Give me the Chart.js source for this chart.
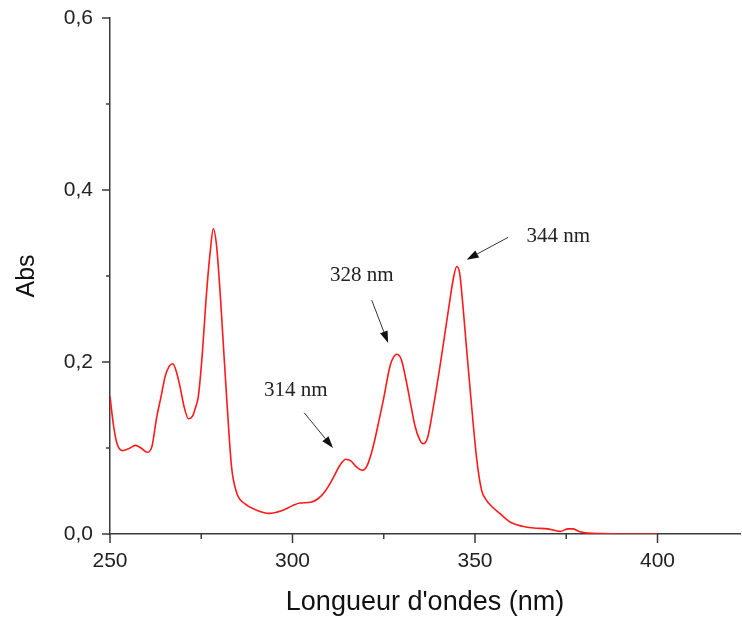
<!DOCTYPE html>
<html>
<head>
<meta charset="utf-8">
<script src="https://cdn.jsdelivr.net/npm/chart.js@4"></script>
<style>
  html, body { margin: 0; padding: 0; background: #fff; }
  #wrap { width: 742px; height: 619px; }
</style>
</head>
<body>
<div id="wrap"><canvas id="graph" width="742" height="619"></canvas></div>
<script>
// spectrum
const wavelengths = [250, 251, 252, 253.5, 255, 257, 258.5, 260.2, 261.5, 262.8, 264, 265.1, 266.2, 267.2, 268.3, 269.2, 270.3, 271.5, 272.6, 273.5, 274.2, 275.3, 276.3, 277.5, 278.3, 279.2, 280.3, 281.2, 282, 283.3, 284.7, 287, 290, 293.5, 297, 300, 302, 305, 307, 309, 311, 313, 314.6, 316, 317.5, 319.2, 320.5, 322, 323.5, 324.9, 326.7, 327.6, 328.6, 329.8, 331.3, 332.5, 333.6, 334.8, 335.8, 337, 338.6, 340.4, 342.7, 344.2, 345, 345.8, 346.8, 347.7, 348.6, 350.5, 351.8, 353, 354.6, 356.8, 359.6, 363, 366, 370, 373.3, 375.5, 376.8, 378.5, 381, 385, 390, 400];
const absorbance = [0.160, 0.125, 0.104, 0.097, 0.099, 0.103, 0.100, 0.095, 0.102, 0.136, 0.160, 0.183, 0.195, 0.198, 0.187, 0.171, 0.148, 0.134, 0.137, 0.148, 0.160, 0.210, 0.272, 0.330, 0.355, 0.335, 0.272, 0.210, 0.156, 0.078, 0.048, 0.035, 0.028, 0.024, 0.027, 0.033, 0.036, 0.037, 0.041, 0.050, 0.064, 0.080, 0.087, 0.085, 0.078, 0.074, 0.080, 0.100, 0.128, 0.156, 0.195, 0.205, 0.209, 0.203, 0.175, 0.148, 0.125, 0.110, 0.105, 0.112, 0.148, 0.195, 0.260, 0.300, 0.311, 0.303, 0.260, 0.215, 0.171, 0.086, 0.051, 0.040, 0.032, 0.024, 0.014, 0.009, 0.007, 0.006, 0.003, 0.006, 0.006, 0.003, 0.001, 0.0005, 0, 0];

const xMajor = [250, 300, 350, 400];
const xMinor = [275, 325, 375];
const yMajor = [0, 0.2, 0.4, 0.6];
const yMinor = [0.1, 0.3, 0.5];

// peak labels: text position and arrow (from -> to), in data units
const peakLabels = ['314 nm', '328 nm', '344 nm'];
const labelPos = [[300.9, 0.167], [319.0, 0.301], [372.8, 0.346]];
const arrowFrom = [[303.2, 0.141], [321.7, 0.272], [359.1, 0.345]];
const arrowTo = [[311.1, 0.100], [326.2, 0.222], [347.7, 0.319]];

const axisColor = '#3a3a3a';
const sans = '"Liberation Sans", Arial, sans-serif';

const tickMarks = {
    id: 'tickMarks',
    afterDraw(chart) {
        const ctx = chart.ctx;
        const x = chart.scales.x, y = chart.scales.y;
        const x0 = chart.chartArea.left, y0 = chart.chartArea.bottom;
        ctx.save();
        ctx.strokeStyle = axisColor;
        ctx.lineWidth = 1.5;
        ctx.beginPath();
        xMajor.forEach(v => { const p = x.getPixelForValue(v); ctx.moveTo(p, y0); ctx.lineTo(p, y0 + 9); });
        xMinor.forEach(v => { const p = x.getPixelForValue(v); ctx.moveTo(p, y0); ctx.lineTo(p, y0 + 5); });
        yMajor.forEach(v => { const p = y.getPixelForValue(v); ctx.moveTo(x0, p); ctx.lineTo(x0 - 8, p); });
        yMinor.forEach(v => { const p = y.getPixelForValue(v); ctx.moveTo(x0, p); ctx.lineTo(x0 - 4, p); });
        ctx.stroke();

        // peak annotations
        ctx.font = '21px "Liberation Serif", "Times New Roman", serif';
        ctx.textAlign = 'center';
        ctx.textBaseline = 'middle';
        peakLabels.forEach((t, i) => {
            ctx.fillStyle = '#222';
            ctx.fillText(t, x.getPixelForValue(labelPos[i][0]), y.getPixelForValue(labelPos[i][1]));
            const ax = x.getPixelForValue(arrowFrom[i][0]), ay = y.getPixelForValue(arrowFrom[i][1]);
            const bx = x.getPixelForValue(arrowTo[i][0]), by = y.getPixelForValue(arrowTo[i][1]);
            const ang = Math.atan2(by - ay, bx - ax);
            const hl = 12, hw = 4;
            ctx.strokeStyle = '#333';
            ctx.lineWidth = 1;
            ctx.beginPath();
            ctx.moveTo(ax, ay);
            ctx.lineTo(bx - hl * Math.cos(ang), by - hl * Math.sin(ang));
            ctx.stroke();
            ctx.fillStyle = '#111';
            ctx.beginPath();
            ctx.moveTo(bx, by);
            ctx.lineTo(bx - hl * Math.cos(ang) + hw * Math.sin(ang), by - hl * Math.sin(ang) - hw * Math.cos(ang));
            ctx.lineTo(bx - hl * Math.cos(ang) - hw * Math.sin(ang), by - hl * Math.sin(ang) + hw * Math.cos(ang));
            ctx.closePath();
            ctx.fill();
        });
        ctx.restore();
    }
};

const points = wavelengths.map((w, i) => ({x: w, y: absorbance[i]}));

new Chart(document.getElementById('graph'), {
    type: 'line',
    data: {
        datasets: [{
            label: 'Abs',
            data: points,
            borderColor: '#ff1a1a',
            borderWidth: 1.6,
            pointRadius: 0,
            fill: false,
            cubicInterpolationMode: 'monotone'
        }]
    },
    options: {
        responsive: false,
        animation: false,
        layout: {padding: {top: 18, right: 2, left: 0, bottom: 0}},
        plugins: {legend: {display: false}, tooltip: {enabled: false}},
        scales: {
            x: {
                type: 'linear',
                min: 250,
                max: 422.6,
                afterFit: s => { s.height = 85; s.paddingLeft = 0; s.paddingRight = 0; },
                afterBuildTicks: s => { s.ticks = xMajor.map(v => ({value: v})); },
                grid: {display: false, drawTicks: false},
                border: {display: true, color: axisColor, width: 1.5},
                ticks: {
                    padding: 15,
                    color: '#222',
                    font: {family: sans, size: 21},
                    callback: v => String(v)
                },
                title: {
                    display: true,
                    text: "Longueur d'ondes (nm)",
                    color: '#111',
                    font: {family: sans, size: 27},
                    padding: {top: 0, bottom: 0}
                }
            },
            y: {
                type: 'linear',
                min: 0,
                max: 0.6,
                afterFit: s => { s.width = 110; s.paddingTop = 0; s.paddingBottom = 0; },
                afterBuildTicks: s => { s.ticks = yMajor.map(v => ({value: v})); },
                grid: {display: false, drawTicks: false},
                border: {display: true, color: axisColor, width: 1.5},
                ticks: {
                    padding: 17,
                    color: '#222',
                    font: {family: sans, size: 21},
                    callback: v => v.toFixed(1).replace('.', ',')
                },
                title: {
                    display: true,
                    text: 'Abs',
                    color: '#111',
                    font: {family: sans, size: 25},
                    padding: {top: 12, bottom: 0}
                }
            }
        }
    },
    plugins: [tickMarks]
});
</script>
</body>
</html>
